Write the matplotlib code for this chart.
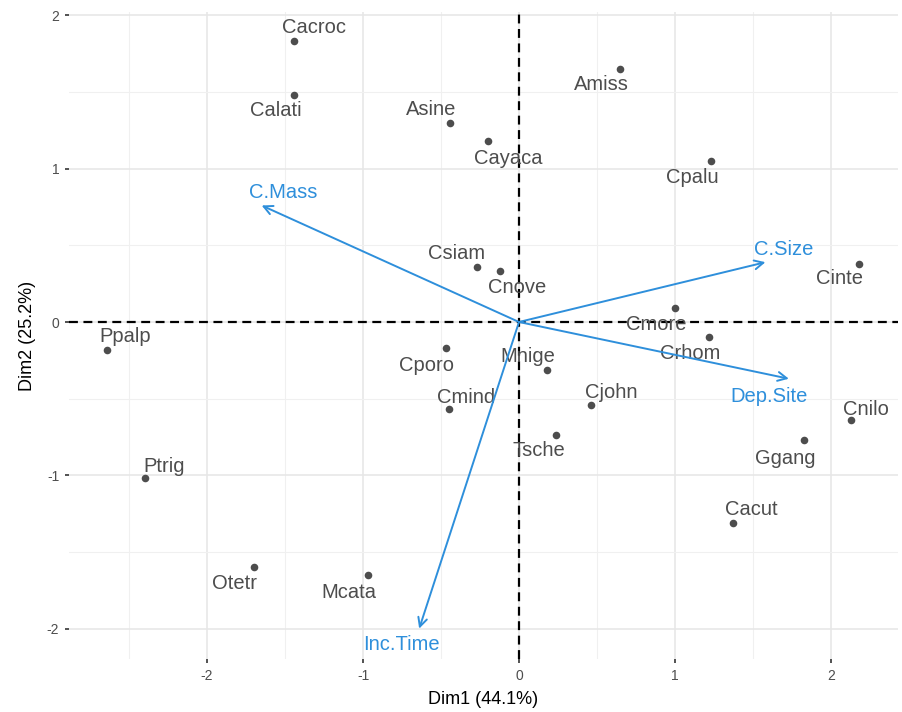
import matplotlib.pyplot as plt
from matplotlib.ticker import MultipleLocator

plt.rcParams['font.family'] = ['Liberation Sans', 'DejaVu Sans']
plt.rcParams['axes.unicode_minus'] = False

# individuals (species) on the first two dimensions
species = ['Cacroc', 'Calati', 'Asine', 'Cayaca', 'Amiss', 'Cpalu', 'Csiam', 'Cnove',
           'Cinte', 'Cmore', 'Crhom', 'Ppalp', 'Cporo', 'Mnige', 'Cmind', 'Cjohn',
           'Tsche', 'Cnilo', 'Ggang', 'Cacut', 'Ptrig', 'Otetr', 'Mcata']
dim1 = [-1.44, -1.44, -0.44, -0.20, 0.65, 1.23, -0.27, -0.12,
        2.18, 1.00, 1.22, -2.64, -0.47, 0.18, -0.45, 0.46,
        0.24, 2.13, 1.83, 1.37, -2.40, -1.70, -0.97]
dim2 = [1.83, 1.48, 1.30, 1.18, 1.65, 1.05, 0.36, 0.33,
        0.38, 0.09, -0.10, -0.18, -0.17, -0.31, -0.57, -0.54,
        -0.74, -0.64, -0.77, -1.31, -1.02, -1.60, -1.65]

# variables (arrows)
variables = ['C.Mass', 'C.Size', 'Dep.Site', 'Inc.Time']
var_dim1 = [-1.65, 1.58, 1.73, -0.64]
var_dim2 = [0.76, 0.39, -0.37, -2.00]

# label offsets in pixels (like ggrepel placement)
ind_offsets = [(20, 14), (-19, -15), (-19, 13), (20, -17), (-19, -15), (-19, -16),
               (-20, 13), (17, -16), (-20, -15), (-19, -16), (-19, -16), (18, 13),
               (-19, -17), (-19, 13), (17, 12), (20, 12), (-18, -15), (15, 11),
               (-19, -18), (19, 13), (19, 12), (-19, -16), (-19, -17)]
var_offsets = [(22, 13), (18, 13), (-20, -18), (-18, -16)]

blue = '#2E8FDB'
grey = '#4D4D4D'

fig = plt.figure(figsize=(9.02, 7.12), dpi=100)
ax = fig.add_axes([0.0765, 0.0744, 0.9191, 0.9088])

ax.set_xlim(-2.885, 2.43)
ax.set_ylim(-2.198, 2.022)

ax.xaxis.set_major_locator(MultipleLocator(1))
ax.yaxis.set_major_locator(MultipleLocator(1))
ax.xaxis.set_minor_locator(MultipleLocator(0.5))
ax.yaxis.set_minor_locator(MultipleLocator(0.5))
ax.grid(which='major', color='#E6E6E6', linewidth=1.1)
ax.grid(which='minor', color='#F0F0F0', linewidth=0.8)
ax.set_axisbelow(True)
for s in ax.spines.values():
    s.set_visible(False)
ax.tick_params(which='major', length=3, width=1.2, color='#333333',
               labelsize=10, labelcolor=grey, pad=4)
ax.tick_params(which='minor', length=0)

ax.axhline(0, color='black', linestyle=(0, (4, 2.5)), linewidth=1.6, zorder=1)
ax.axvline(0, color='black', linestyle=(0, (4, 2.5)), linewidth=1.6, zorder=1)

ax.scatter(dim1, dim2, s=30, color=grey, zorder=3, linewidths=0)
for name, x, y, (dx, dy) in zip(species, dim1, dim2, ind_offsets):
    ax.annotate(name, (x, y), xytext=(dx, dy), textcoords='offset pixels',
                ha='center', va='center', fontsize=14.5, color=grey, zorder=4)

for name, x, y, (dx, dy) in zip(variables, var_dim1, var_dim2, var_offsets):
    ax.annotate('', xy=(x, y), xytext=(0, 0),
                arrowprops=dict(arrowstyle='->', color=blue, lw=1.4,
                                mutation_scale=16, shrinkA=0, shrinkB=0),
                zorder=5)
    ax.annotate(name, (x, y), xytext=(dx, dy), textcoords='offset pixels',
                ha='center', va='center', fontsize=14.5, color=blue, zorder=5)

ax.set_xlabel('Dim1 (44.1%)', fontsize=13, color='black', labelpad=6)
ax.set_ylabel('Dim2 (25.2%)', fontsize=13, color='black', labelpad=8)

fig.savefig('out.png', dpi=100)
